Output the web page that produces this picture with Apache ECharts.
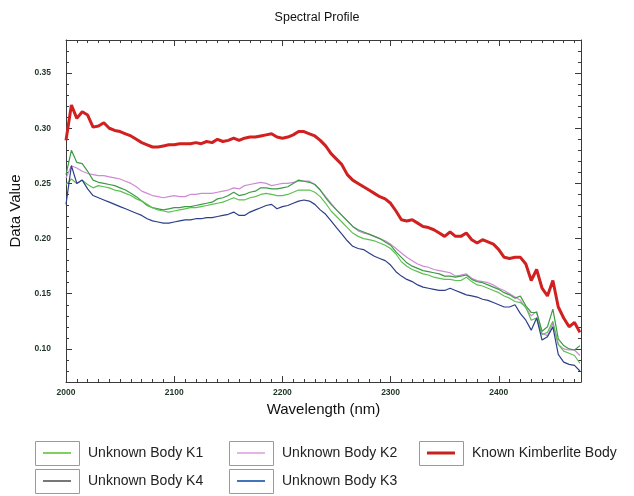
<!DOCTYPE html>
<html>
<head>
<meta charset="utf-8">
<style>
  html, body { margin: 0; padding: 0; background: #fff; }
  #chart { width: 634px; height: 496px; }
</style>
<script src="https://cdn.jsdelivr.net/npm/echarts@6/dist/echarts.min.js"></script>
</head>
<body>
<div id="chart"></div>
<script>
// wavelength samples (nm)
const wavelengths = [
  2000, 2005, 2010, 2015, 2020, 2025, 2030, 2035, 2040, 2045,
  2050, 2055, 2060, 2065, 2070, 2075, 2080, 2085, 2090, 2095,
  2100, 2105, 2110, 2115, 2120, 2125, 2130, 2135, 2140, 2145,
  2150, 2155, 2160, 2165, 2170, 2175, 2180, 2185, 2190, 2195,
  2200, 2205, 2210, 2215, 2220, 2225, 2230, 2235, 2240, 2245,
  2250, 2255, 2260, 2265, 2270, 2275, 2280, 2285, 2290, 2295,
  2300, 2305, 2310, 2315, 2320, 2325, 2330, 2335, 2340, 2345,
  2350, 2355, 2360, 2365, 2370, 2375, 2380, 2385, 2390, 2395,
  2400, 2405, 2410, 2415, 2420, 2425, 2430, 2435, 2440, 2445,
  2450, 2455, 2460, 2465, 2470, 2475
];

const bodyK1 = [
  0.249, 0.254, 0.250, 0.253, 0.249, 0.246, 0.248, 0.247, 0.246, 0.244,
  0.243, 0.241, 0.239, 0.236, 0.234, 0.231, 0.228, 0.226, 0.225, 0.224,
  0.225, 0.226, 0.227, 0.228, 0.228, 0.229, 0.230, 0.231, 0.232, 0.233,
  0.235, 0.237, 0.235, 0.235, 0.237, 0.238, 0.240, 0.241, 0.240, 0.239,
  0.239, 0.240, 0.242, 0.244, 0.244, 0.244, 0.242, 0.238, 0.232, 0.225,
  0.220, 0.215, 0.210, 0.205, 0.202, 0.200, 0.199, 0.198, 0.196, 0.194,
  0.191, 0.186, 0.179, 0.175, 0.172, 0.170, 0.168, 0.167, 0.165, 0.164,
  0.163, 0.163, 0.162, 0.162, 0.165, 0.161, 0.158, 0.157, 0.155, 0.153,
  0.151, 0.148, 0.146, 0.143, 0.142, 0.138, 0.126, 0.128, 0.113, 0.115,
  0.125, 0.104, 0.098, 0.096, 0.094, 0.087
];

const bodyK2 = [
  0.255, 0.266, 0.264, 0.261, 0.259, 0.258, 0.257, 0.257, 0.256, 0.255,
  0.254, 0.252, 0.250, 0.247, 0.243, 0.241, 0.239, 0.238, 0.237, 0.238,
  0.239, 0.238, 0.238, 0.240, 0.240, 0.241, 0.241, 0.241, 0.242, 0.243,
  0.244, 0.246, 0.245, 0.248, 0.249, 0.250, 0.251, 0.250, 0.248, 0.249,
  0.250, 0.250, 0.251, 0.252, 0.252, 0.252, 0.249, 0.244, 0.238, 0.232,
  0.226, 0.221, 0.216, 0.211, 0.207, 0.205, 0.204, 0.202, 0.200, 0.198,
  0.195, 0.191, 0.187, 0.183, 0.180, 0.177, 0.175, 0.174, 0.172, 0.171,
  0.170, 0.169, 0.166, 0.167, 0.168, 0.164, 0.162, 0.161, 0.160, 0.158,
  0.155, 0.153, 0.150, 0.147, 0.144, 0.137, 0.130, 0.134, 0.114, 0.112,
  0.123, 0.104, 0.100, 0.099, 0.099, 0.094
];

const bodyK3 = [
  0.231, 0.266, 0.250, 0.253, 0.245, 0.239, 0.237, 0.235, 0.233, 0.231,
  0.229, 0.227, 0.225, 0.223, 0.221, 0.218, 0.216, 0.215, 0.214, 0.214,
  0.215, 0.216, 0.217, 0.217, 0.218, 0.218, 0.219, 0.219, 0.220, 0.221,
  0.222, 0.224, 0.221, 0.221, 0.224, 0.226, 0.228, 0.230, 0.231, 0.227,
  0.229, 0.230, 0.232, 0.234, 0.235, 0.234, 0.231, 0.226, 0.222, 0.216,
  0.210, 0.204, 0.198, 0.193, 0.191, 0.190, 0.187, 0.184, 0.182, 0.180,
  0.176, 0.170, 0.166, 0.163, 0.161, 0.158, 0.156, 0.155, 0.154, 0.153,
  0.153, 0.155, 0.153, 0.151, 0.149, 0.148, 0.147, 0.145, 0.144, 0.142,
  0.140, 0.138, 0.138, 0.140, 0.132, 0.126, 0.117, 0.128, 0.108, 0.111,
  0.120, 0.095, 0.088, 0.086, 0.085, 0.080
];

const bodyK4 = [
  0.258, 0.280, 0.269, 0.268, 0.261, 0.253, 0.251, 0.250, 0.249, 0.248,
  0.246, 0.244, 0.241, 0.238, 0.234, 0.230, 0.228, 0.227, 0.226, 0.227,
  0.228, 0.228, 0.229, 0.229, 0.230, 0.231, 0.232, 0.233, 0.236, 0.237,
  0.239, 0.242, 0.239, 0.240, 0.242, 0.243, 0.246, 0.246, 0.245, 0.245,
  0.246, 0.247, 0.250, 0.253, 0.252, 0.251, 0.249, 0.244, 0.237, 0.231,
  0.226, 0.221, 0.216, 0.211, 0.208, 0.206, 0.204, 0.202, 0.200, 0.197,
  0.194, 0.188, 0.183, 0.178, 0.175, 0.173, 0.171, 0.170, 0.169, 0.168,
  0.166, 0.166, 0.165, 0.166, 0.167, 0.163, 0.161, 0.160, 0.158, 0.156,
  0.154, 0.151, 0.149, 0.146, 0.148, 0.139, 0.133, 0.133, 0.116, 0.120,
  0.136, 0.109, 0.103, 0.100, 0.099, 0.103
];

const kimberlite = [
  0.289, 0.321, 0.309, 0.315, 0.312, 0.301, 0.302, 0.305, 0.300, 0.298,
  0.297, 0.295, 0.293, 0.290, 0.287, 0.285, 0.283, 0.283, 0.284, 0.285,
  0.285, 0.286, 0.286, 0.286, 0.287, 0.286, 0.288, 0.287, 0.290, 0.288,
  0.289, 0.291, 0.289, 0.291, 0.292, 0.292, 0.293, 0.294, 0.295, 0.292,
  0.291, 0.292, 0.294, 0.297, 0.297, 0.295, 0.293, 0.289, 0.284, 0.277,
  0.272, 0.267, 0.258, 0.253, 0.250, 0.247, 0.244, 0.241, 0.238, 0.236,
  0.232, 0.225, 0.217, 0.216, 0.217, 0.214, 0.211, 0.210, 0.208, 0.205,
  0.202, 0.206, 0.202, 0.202, 0.205, 0.199, 0.196, 0.199, 0.197, 0.195,
  0.190, 0.183, 0.182, 0.183, 0.183, 0.177, 0.162, 0.172, 0.155, 0.148,
  0.162, 0.138, 0.128, 0.120, 0.124, 0.115
];

const xMin = 2000, xMax = 2476;
const yMin = 0.07, yMax = 0.38;

const font = "'Liberation Sans', Arial, sans-serif";
const frameColor = "#3a3a3a";
const tickLabelStyle = {
  fontFamily: font,
  fontSize: 8.5,
  fontWeight: "bold",
  color: "#1e3526",
};

function pairs(values) {
  return values.map((v, i) => [wavelengths[i], v]);
}

// major + minor tick axes on every side of the frame
function xAxisPair(position, withLabels) {
  return [
    {
      type: "value", position: position, min: xMin, max: xMax, interval: 100,
      axisLine: { show: true, lineStyle: { color: frameColor, width: 1 } },
      axisTick: { show: true, inside: true, length: 6, lineStyle: { color: frameColor } },
      axisLabel: withLabels
        ? Object.assign({
            show: true, margin: 6, showMaxLabel: false,
            formatter: (v) => String(v),
          }, tickLabelStyle)
        : { show: false },
      splitLine: { show: false },
      name: withLabels ? "Wavelength (nm)" : "",
      nameLocation: "middle",
      nameGap: 20,
      nameTextStyle: { fontFamily: font, fontSize: 15, color: "#111" },
    },
    {
      type: "value", position: position, min: xMin, max: xMax, interval: 10,
      axisLine: { show: false },
      axisTick: { show: true, inside: true, length: 3, lineStyle: { color: frameColor } },
      axisLabel: { show: false },
      splitLine: { show: false },
    },
  ];
}

function yAxisPair(position, withLabels) {
  return [
    {
      type: "value", position: position, min: yMin, max: yMax, splitNumber: 6,
      axisLine: { show: true, lineStyle: { color: frameColor, width: 1 } },
      axisTick: { show: true, inside: true, length: 6, lineStyle: { color: frameColor } },
      axisLabel: withLabels
        ? Object.assign({
            show: true, margin: 15, showMinLabel: false, showMaxLabel: false,
            formatter: (v) => v.toFixed(2),
          }, tickLabelStyle)
        : { show: false },
      splitLine: { show: false },
      name: withLabels ? "Data Value" : "",
      nameLocation: "middle",
      nameGap: 35,
      nameTextStyle: { fontFamily: font, fontSize: 15, color: "#111" },
    },
    {
      type: "value", position: position, min: yMin, max: yMax, interval: 0.01,
      axisLine: { show: false },
      axisTick: { show: true, inside: true, length: 3, lineStyle: { color: frameColor } },
      axisLabel: { show: false },
      splitLine: { show: false },
    },
  ];
}

const seriesList = [
  { name: "Unknown Body K2", data: bodyK2, color: "#cf8ad6", width: 1.2 },
  { name: "Unknown Body K4", data: bodyK4, color: "#3d9a45", width: 1.2 },
  { name: "Unknown Body K1", data: bodyK1, color: "#5cc052", width: 1.2 },
  { name: "Unknown Body K3", data: bodyK3, color: "#2c3f88", width: 1.2 },
  { name: "Known Kimberlite Body", data: kimberlite, color: "#d21f1f", width: 3 },
];

// legend slots: box position, icon colour, icon thickness
const legendSlots = [
  { name: "Unknown Body K1", x: 35, y: 441, icon: "#7fd05c", h: 2 },
  { name: "Unknown Body K2", x: 229, y: 441, icon: "#e2b6e4", h: 2 },
  { name: "Known Kimberlite Body", x: 419, y: 441, icon: "#c8201e", h: 3 },
  { name: "Unknown Body K4", x: 35, y: 469, icon: "#4a4a4a", h: 1.5 },
  { name: "Unknown Body K3", x: 229, y: 469, icon: "#4373b8", h: 2 },
];

const chart = echarts.init(document.getElementById("chart"), null, { renderer: "canvas" });

chart.setOption({
  animation: false,
  backgroundColor: "#fff",
  title: {
    text: "Spectral Profile",
    left: "center",
    top: 6,
    textStyle: { fontFamily: font, fontSize: 12.5, fontWeight: "normal", color: "#111" },
  },
  grid: { left: 66, right: 53, top: 40, bottom: 114 },
  xAxis: [...xAxisPair("bottom", true), ...xAxisPair("top", false)],
  yAxis: [...yAxisPair("left", true), ...yAxisPair("right", false)],
  legend: legendSlots.map((s) => ({
    data: [{ name: s.name, itemStyle: { color: s.icon } }],
    left: s.x + 8,
    top: s.y + 5,
    padding: 0,
    icon: "rect",
    itemWidth: 28,
    itemHeight: s.h,
    selectedMode: false,
    textStyle: { fontFamily: font, fontSize: 14, color: "#222", padding: [0, 0, 0, 12] },
  })),
  graphic: legendSlots.map((s) => ({
    type: "rect",
    z: 1,
    shape: { x: s.x + 0.5, y: s.y + 0.5, width: 44, height: 24 },
    style: { fill: "#fff", stroke: "#9a9a9a", lineWidth: 1 },
  })),
  series: seriesList.map((s) => ({
    name: s.name,
    type: "line",
    xAxisIndex: 0,
    yAxisIndex: 0,
    data: pairs(s.data),
    showSymbol: false,
    symbol: "none",
    color: s.color,
    lineStyle: { color: s.color, width: s.width },
    emphasis: { disabled: true },
  })),
});
</script>
</body>
</html>
